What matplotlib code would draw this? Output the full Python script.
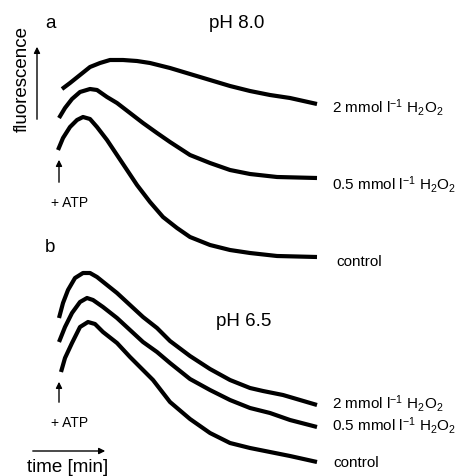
import matplotlib
matplotlib.use("Agg")
import matplotlib.pyplot as plt

plt.rcParams['font.family'] = ['Liberation Sans', 'DejaVu Sans']
plt.rcParams['mathtext.fontset'] = 'custom'
plt.rcParams['mathtext.rm'] = 'Liberation Sans'
plt.rcParams['mathtext.it'] = 'Liberation Sans'
plt.rcParams['mathtext.default'] = 'regular'

# traces (x = time, y = fluorescence, both in figure pixels)
a_2mm_t = [62, 70, 80, 90, 100, 110, 123, 137, 150, 170, 190, 210, 230, 250, 270, 290, 317]
a_2mm_f = [89, 83, 75, 67, 63, 60, 60, 61, 63, 68, 74, 80, 86, 91, 95, 98, 104]
a_05mm_t = [59, 65, 72, 80, 90, 97, 107, 117, 130, 143, 157, 170, 190, 210, 230, 250, 277, 317]
a_05mm_f = [118, 108, 99, 92, 89, 90, 97, 103, 113, 123, 133, 142, 155, 163, 170, 174, 177, 178]
a_ctrl_t = [58, 63, 70, 77, 83, 90, 97, 107, 117, 127, 137, 150, 163, 177, 190, 210, 230, 250, 277, 317]
a_ctrl_f = [150, 138, 127, 120, 117, 119, 127, 140, 155, 170, 185, 202, 217, 228, 237, 245, 250, 253, 256, 257]

b_2mm_t = [59, 63, 68, 75, 83, 90, 97, 107, 117, 130, 143, 157, 170, 190, 210, 230, 250, 263, 283, 317]
b_2mm_f = [318, 303, 290, 278, 273, 273, 277, 285, 293, 305, 317, 328, 341, 356, 369, 380, 388, 391, 395, 405]
b_05mm_t = [59, 65, 72, 80, 87, 93, 103, 117, 130, 143, 157, 170, 190, 210, 230, 250, 270, 290, 317]
b_05mm_f = [342, 327, 313, 302, 298, 300, 307, 318, 330, 342, 352, 363, 379, 390, 400, 408, 413, 420, 427]
b_ctrl_t = [61, 65, 72, 80, 88, 95, 103, 117, 130, 143, 153, 170, 190, 210, 230, 250, 270, 290, 317]
b_ctrl_f = [372, 358, 343, 327, 322, 324, 332, 343, 357, 370, 380, 402, 419, 433, 443, 448, 452, 456, 462]

h2o2_2 = r"2 mmol l$^{-1}$ H$_2$O$_2$"
h2o2_05 = r"0.5 mmol l$^{-1}$ H$_2$O$_2$"

fig = plt.figure(figsize=(4.66, 4.76), dpi=100)
ax = fig.add_axes([0, 0, 1, 1])
ax.set_xlim(0, 466)
ax.set_ylim(476, 0)
ax.axis('off')

lw = 3.0
for t, f in [(a_2mm_t, a_2mm_f), (a_05mm_t, a_05mm_f), (a_ctrl_t, a_ctrl_f),
             (b_2mm_t, b_2mm_f), (b_05mm_t, b_05mm_f), (b_ctrl_t, b_ctrl_f)]:
    ax.plot(t, f, color='black', lw=lw, solid_capstyle='butt', solid_joinstyle='round')

lab = 11
ax.text(332, 107, h2o2_2, fontsize=lab, va='center')
ax.text(332, 184, h2o2_05, fontsize=lab, va='center')
ax.text(336, 262, "control", fontsize=lab, va='center')
ax.text(332, 403, h2o2_2, fontsize=lab, va='center')
ax.text(332, 426, h2o2_05, fontsize=lab, va='center')
ax.text(333, 463, "control", fontsize=lab, va='center')

# panel labels / titles
ax.text(50, 23, "a", fontsize=13.5, ha='center', va='center')
ax.text(50, 247, "b", fontsize=13.5, ha='center', va='center')
ax.text(237, 23, "pH 8.0", fontsize=13.5, ha='center', va='center')
ax.text(244, 322, "pH 6.5", fontsize=13.5, ha='center', va='center')

# ATP arrows
arrow = dict(arrowstyle='-|>', color='black', lw=1.0, mutation_scale=9)
ax.annotate("", xy=(59, 157), xytext=(59, 185), arrowprops=arrow)
ax.annotate("", xy=(59, 379), xytext=(59, 405), arrowprops=arrow)
ax.text(70, 203, "+ ATP", fontsize=10, ha='center', va='center')
ax.text(70, 423, "+ ATP", fontsize=10, ha='center', va='center')

# axis arrows
ax.annotate("", xy=(37, 44), xytext=(37, 122), arrowprops=arrow)
ax.text(22, 79, "fluorescence", fontsize=13.5, rotation=90, ha='center', va='center')
ax.annotate("", xy=(108, 451), xytext=(30, 451), arrowprops=arrow)
ax.text(68, 467, "time [min]", fontsize=13.5, ha='center', va='center')

fig.savefig("out.png", dpi=100)
